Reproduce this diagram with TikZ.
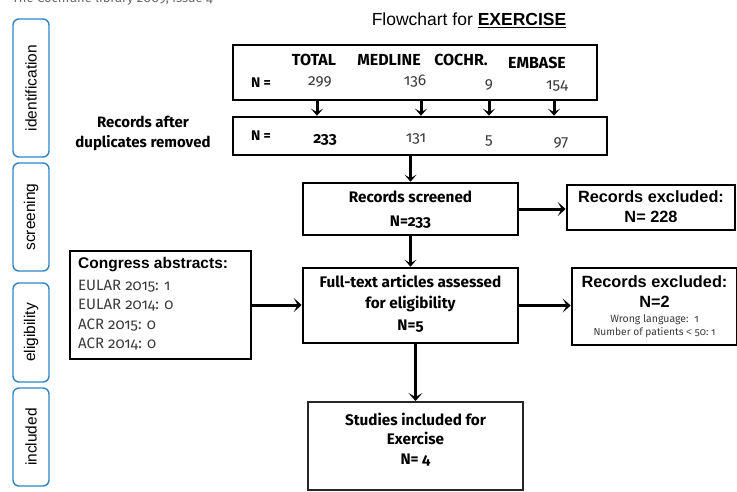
\documentclass[tikz,border=0pt]{standalone}
\usepackage{fontspec}
\setmainfont{Fira Sans}[Numbers=OldStyle]
\newfontfamily\arialf{Liberation Sans}
\usetikzlibrary{arrows.meta}
\definecolor{sideblue}{HTML}{2F86C4}
\definecolor{txtgray}{HTML}{3A3A3A}
\definecolor{topgray}{HTML}{6A6A6A}
\begin{document}
\begin{tikzpicture}[x=1pt,y=-1pt,
  box/.style={draw=black,line width=2.6pt,inner sep=2pt},
  side/.style={draw=sideblue,line width=1.4pt,rounded corners=6pt,rotate=90,
    font=\arialf\fontsize{15.5}{18}\selectfont,inner sep=0pt,minimum height=36pt},
  arr/.style={line width=3pt,-{Stealth[length=8pt,width=14pt,inset=4pt]}},
  sarr/.style={line width=3pt,-{Stealth[length=7pt,width=12pt,inset=3.5pt]}},
  bt/.style={font=\bfseries\fontsize{15.3}{21.5}\selectfont,align=center,inner sep=0pt},
  hd/.style={font=\bfseries\fontsize{16}{18}\selectfont,inner sep=0pt},
  num/.style={font=\fontsize{15.5}{17}\selectfont,text=txtgray,inner sep=0pt},
  ax/.style={font=\arialf\bfseries\fontsize{16.3}{20}\selectfont,align=center,inner sep=0pt},
  it/.style={font=\fontsize{15}{17}\selectfont,text=txtgray,inner sep=0pt,anchor=west},
]
\clip (0,0) rectangle (737,491);
\fill[white] (0,0) rectangle (737,491);

% header text (clipped at top, as in the reference)
\node[anchor=base west,font=\fontsize{13}{15}\selectfont,text=topgray,inner sep=0pt] (src) at (12,2.5) {The Cochrane library 2009, issue 4};

% title
\node[font=\arialf\fontsize{17.5}{20}\selectfont,inner sep=0pt] (title) at (469,20) {Flowchart for \textbf{\underline{EXERCISE}}};

% side labels
\node[side,minimum width=138pt] (sid) at (31,88) {identification};
\node[side,minimum width=108pt] (sscr) at (31,217) {screening};
\node[side,minimum width=99pt] (selg) at (31,332.5) {eligibility};
\node[side,minimum width=98pt] (sinc) at (31,437) {included};

% identification boxes
\node[box,minimum width=364pt,minimum height=55pt] (b1) at (415,72.5) {};
\node[box,minimum width=374pt,minimum height=38pt] (b2) at (420,136) {};

\node[hd,font=\bfseries\fontsize{14}{16}\selectfont] (hN1) at (261,83) {N =};
\node[hd] (hT) at (314,60) {TOTAL};
\node[hd] (hM) at (389,60) {MEDLINE};
\node[hd] (hC) at (461,60) {COCHR.};
\node[hd] (hE) at (537,63) {EMBASE};
\node[num] (n1a) at (320,82) {299};
\node[num] (n1b) at (415,81) {136};
\node[num] (n1c) at (489,85) {9};
\node[num] (n1d) at (557,86) {154};

\node[hd,font=\bfseries\fontsize{14}{16}\selectfont] (hN2) at (261,136) {N =};
\node[num,font=\bfseries\fontsize{15.5}{17}\selectfont,text=black] (n2a) at (325,140) {233};
\node[num] (n2b) at (416,139) {131};
\node[num] (n2c) at (489,141) {5};
\node[num] (n2d) at (561,143) {97};

\node[bt,font=\bfseries\fontsize{15}{20}\selectfont] (dup) at (143,133) {Records after\\duplicates removed};

\coordinate (x1) at (317,0);
\coordinate (x2) at (421,0);
\coordinate (x3) at (489,0);
\coordinate (x4) at (554,0);
\foreach \c in {x1,x2,x3,x4}
  \draw[sarr] (b1.south -| \c) -- (b2.north -| \c);

% screening
\node[box,minimum width=215pt,minimum height=52pt] (scr) at (410.5,209) {};
\node[bt,font=\bfseries\fontsize{15.3}{24}\selectfont] (scrt) at (410.5,210) {Records screened\\N=233};
\node[box,minimum width=168pt,minimum height=45pt] (ex1) at (651,207.5) {};
\node[ax] (ex1t) at (651,207) {Records excluded:\\N= 228};

% eligibility
\node[box,minimum width=215pt,minimum height=75pt] (ft) at (410.5,305.5) {};
\node[bt] (ftt) at (410.5,303.5) {Full-text articles assessed\\for eligibility\\N=5};

\node[box,minimum width=165pt,minimum height=77pt] (ex2) at (654.5,306.5) {};
\node[ax] (ex2a) at (654.5,282) {Records excluded:};
\node[ax] (ex2b) at (654.5,302) {N=2};
\node[inner sep=0pt,font=\fontsize{10.5}{12}\selectfont,text=txtgray] (ex2c) at (654.5,320) {Wrong language:\ \ 1};
\node[inner sep=0pt,font=\fontsize{10.2}{12}\selectfont,text=txtgray] (ex2d) at (654.5,333) {Number of patients {\fontspec{Liberation Sans}<} 50:\ 1};

\node[box,minimum width=181pt,minimum height=108pt] (cong) at (160.5,305) {};
\node[anchor=west,inner sep=0pt,font=\arialf\bfseries\fontsize{15.5}{17}\selectfont] (congt) at (78,265) {Congress abstracts:};
\node[it] (c1) at (78,286) {EULAR 2015: 1};
\node[it] (c2) at (78,305) {EULAR 2014: 0};
\node[it] (c3) at (78,325) {ACR 2015: 0};
\node[it] (c4) at (78,344) {ACR 2014: 0};

% included
\node[box,draw=black!85,line width=2pt,minimum width=215pt,minimum height=88pt] (st) at (415.5,446) {};
\node[bt,font=\bfseries\fontsize{15.3}{19.5}\selectfont] (stt) at (415.5,439.5) {Studies included for\\Exercise\\N= 4};

% arrows
\draw[sarr] (b2.south -| scr.north) -- (scr.north);
\draw[arr] (scr.east) -- (scr.east -| ex1.west);
\draw[sarr] (scr.south) -- (ft.north);
\draw[arr] (ft.east) -- (ft.east -| ex2.west);
\draw[arr] (cong.east) -- (cong.east -| ft.west);
\draw[arr] (ft.south -| st.north) -- (st.north);
\end{tikzpicture}
\end{document}
